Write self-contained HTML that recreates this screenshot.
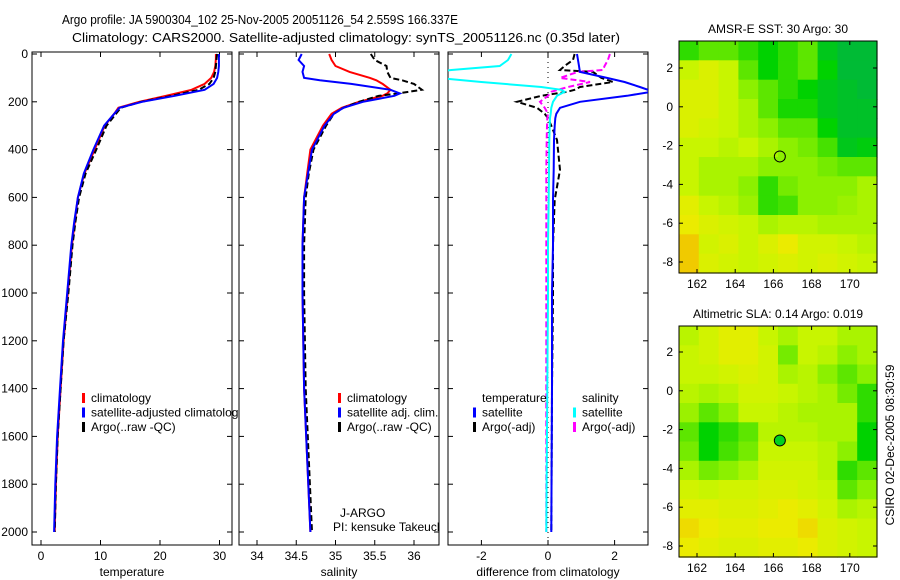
<!DOCTYPE html>
<html><head><meta charset="utf-8"><style>
html,body{margin:0;padding:0;background:#fff;}
svg{display:block;font-family:"Liberation Sans",sans-serif;}
text{font-size:12px;fill:#000;}
</style></head><body>
<svg id="fig" width="900" height="580" viewBox="0 0 900 580" xmlns="http://www.w3.org/2000/svg">
<rect width="900" height="580" fill="#fff"/>
<text x="62" y="24" text-anchor="start" textLength="396" lengthAdjust="spacingAndGlyphs" style="font-size:13px">Argo profile: JA 5900304_102 25-Nov-2005 20051126_54 2.559S 166.337E</text>
<text x="72" y="42" text-anchor="start" textLength="548" lengthAdjust="spacingAndGlyphs" style="font-size:13px">Climatology: CARS2000. Satellite-adjusted climatology: synTS_20051126.nc (0.35d later)</text>
<defs>
<clipPath id="c1"><rect x="32" y="52" width="200" height="493"/></clipPath>
<clipPath id="c2"><rect x="239" y="52" width="200" height="493"/></clipPath>
<clipPath id="c3"><rect x="448" y="52" width="200" height="493"/></clipPath>
<clipPath id="cleg1"><rect x="32" y="380" width="206" height="60"/></clipPath>
<clipPath id="cleg2"><rect x="239" y="380" width="200" height="160"/></clipPath>
</defs>
<g id="plots"></g>
<text transform="translate(894,445) rotate(-90)" text-anchor="middle">CSIRO 02-Dec-2005 08:30:59</text>
</svg>
<script>
// ---- profile data ----
const depths = [0,20,50,75,100,125,150,175,200,225,250,300,400,500,600,700,800,1000,1200,1400,1600,1800,2000];
const tempClim = [29.4,29.4,29.3,29.1,28.6,27.5,25.3,21,16.5,13,12.3,10.7,9,7.3,6.2,5.7,5.2,4.5,3.8,3.3,2.8,2.5,2.3];
const tempSat  = [29.9,29.9,29.9,29.8,29.6,29.0,27.5,22.5,17,13.2,12.3,10.6,8.8,7.2,6.2,5.6,5.1,4.4,3.7,3.2,2.7,2.4,2.2];
const tempArgo = [29.6,29.5,29.4,29.3,29.0,28.3,26.5,22,16.8,13.4,12.6,11.0,9.3,7.5,6.4,5.8,5.3,4.6,3.8,3.3,2.8,2.5,2.3];
const salDepths = [0,25,50,75,100,110,125,150,165,175,200,225,250,300,400,500,600,800,1000,1400,2000];
const salClim = [34.92,34.95,35.0,35.18,35.44,35.52,35.6,35.7,35.66,35.6,35.3,35.08,34.95,34.84,34.68,34.64,34.6,34.58,34.58,34.6,34.68];
const salSat  = [34.57,34.53,34.6,34.58,34.6,34.8,35.2,35.7,35.82,35.75,35.35,35.1,34.98,34.86,34.7,34.65,34.6,34.58,34.58,34.6,34.68];
const salArgo = [35.45,35.5,35.65,35.66,35.7,35.85,36.0,36.1,35.8,35.55,35.3,35.1,34.98,34.88,34.72,34.66,34.62,34.6,34.6,34.62,34.7];
const diffDepths = [0,25,50,67,75,100,117,138,150,158,175,200,225,250,268,300,360,485,610,800,1000,1400,2000];
const dTempSat  = [0.87,0.9,0.93,0.95,0.96,1.77,2.3,2.76,3.0,3.1,2.37,0.96,0.36,0.25,0.22,0.2,0.18,0.17,0.15,0.15,0.12,0.12,0.1];
const dTempArgo = [0.8,0.75,0.5,0.36,1.35,1.6,1.95,0.96,0.8,0.57,-0.2,-0.93,-0.33,-0.1,0,0.1,0.27,0.36,0.2,0.15,0.15,0.12,0.1];
const dSalSat   = [-1.1,-1.2,-1.45,-2.9,-3.5,-3.3,-2.0,-0.2,0.4,0.5,0.27,0.15,0.1,0.08,0.06,0.05,0.04,0.03,0.02,0.0,0.0,-0.02,-0.05];
const dSalArgo  = [1.86,1.8,1.7,1.65,0.9,0.36,1.26,0.6,0.3,0.1,0,-0.24,-0.1,0,-0.02,-0.03,-0.04,-0.05,-0.05,-0.05,-0.05,-0.05,-0.05];
const yTicks = [0,200,400,600,800,1000,1200,1400,1600,1800,2000];
const tTicks = [0,10,20,30], sTicks=[34,34.5,35,35.5,36], dTicks=[-2,0,2];
// ---- map data (rows north->south, cols west->east) ----
const sstGrid = [
[0.4,0.5,0.5,0.4,0.3,0.4,0.5,0.2,0.1,0.1],
[0.8,0.9,0.8,0.5,0.3,0.4,0.5,0.3,0.1,0.1],
[0.9,0.9,0.8,0.6,0.5,0.4,0.3,0.2,0.15,0.1],
[0.9,0.9,0.8,0.7,0.5,0.35,0.35,0.2,0.15,0.15],
[0.9,0.85,0.8,0.7,0.6,0.5,0.5,0.3,0.15,0.15],
[0.8,0.8,0.75,0.8,0.7,0.6,0.55,0.45,0.2,0.25],
[0.8,0.7,0.7,0.7,0.6,0.6,0.6,0.55,0.5,0.5],
[0.8,0.7,0.7,0.6,0.4,0.55,0.6,0.6,0.6,0.7],
[0.95,0.8,0.75,0.65,0.4,0.45,0.6,0.6,0.65,0.7],
[1.0,0.9,0.85,0.8,0.7,0.75,0.75,0.7,0.7,0.7],
[1.1,0.85,0.9,0.8,0.9,1.0,0.85,0.85,0.8,0.75],
[1.1,0.9,0.85,0.8,0.85,0.9,0.85,0.9,0.85,0.8]];
const slaGrid = [
[0.75,0.85,0.95,0.95,0.8,0.7,0.8,0.8,0.7,0.7],
[0.8,0.85,0.95,0.95,0.85,0.55,0.8,0.75,0.6,0.7],
[0.8,0.8,0.85,0.9,0.85,0.7,0.75,0.6,0.5,0.6],
[0.75,0.7,0.75,0.85,0.85,0.8,0.75,0.7,0.55,0.4],
[0.65,0.5,0.6,0.8,0.8,0.75,0.7,0.7,0.7,0.4],
[0.5,0.3,0.4,0.5,0.75,0.75,0.75,0.7,0.7,0.3],
[0.55,0.3,0.45,0.55,0.8,0.8,0.8,0.75,0.6,0.3],
[0.7,0.55,0.6,0.7,0.85,0.85,0.85,0.75,0.4,0.5],
[0.85,0.8,0.85,0.85,0.9,0.9,0.85,0.8,0.5,0.6],
[0.95,0.95,0.9,0.9,0.95,1.0,0.95,0.85,0.7,0.75],
[1.05,1.0,0.95,0.95,1.0,1.0,1.05,0.9,0.85,0.8],
[1.0,0.95,0.9,0.9,0.95,0.95,1.0,0.9,0.85,0.8]];
const latTicks=[2,0,-2,-4,-6,-8], lonTicks=[162,164,166,168,170];

const NS="http://www.w3.org/2000/svg";
const root=document.getElementById('plots');
function mk(tag,attrs,parent){const e=document.createElementNS(NS,tag);for(const k in attrs)e.setAttribute(k,attrs[k]);(parent||root).appendChild(e);return e;}
function txt(x,y,s,anchor,parent){const t=mk('text',{x:x,y:y,'text-anchor':anchor||'middle'},parent);t.textContent=s;return t;}
const yD=d=>54+d*0.239;
const xT=v=>41+v*5.95, xS=v=>257+(v-34)*78.5, xD=v=>548+v*33.3;

function frame(x0,x1,name,xs,ticks,title,labelsY){
  const f=mk('rect',{x:x0,y:52,width:x1-x0,height:493,fill:'none',stroke:'#000','stroke-width':1});
  
  
  ticks.forEach(v=>{const x=xs(v);mk('line',{x1:x,x2:x,y1:545,y2:540,stroke:'#000'});mk('line',{x1:x,x2:x,y1:52,y2:57,stroke:'#000'});
    const t=txt(x,560,String(v));});
  yTicks.forEach(d=>{const y=yD(d);mk('line',{x1:x0,x2:x0+5,y1:y,y2:y,stroke:'#000'});mk('line',{x1:x1-5,x2:x1,y1:y,y2:y,stroke:'#000'});
    if(labelsY){const t=txt(28,y+4,String(d),'end');}});
  const t=txt((x0+x1)/2,576,title);
}
function line(ds,vs,xs,color,dash,clip,name,w){
  const pts=ds.map((d,i)=>xs(vs[i]).toFixed(1)+','+yD(d).toFixed(1)).join(' ');
  const p=mk('polyline',{points:pts,fill:'none',stroke:color,'stroke-width':w||2,'clip-path':'url(#'+clip+')'});
  if(dash)p.setAttribute('stroke-dasharray',dash);
  
  
}
frame(32,232,'temperature-panel',xT,tTicks,'temperature',true);
frame(239,439,'salinity-panel',xS,sTicks,'salinity',false);
frame(448,648,'difference-panel',xD,dTicks,'difference from climatology',false);
line(depths,tempClim,xT,'#f00',null,'c1','temp-climatology-line');
line(depths,tempArgo,xT,'#000','6,3','c1','temp-argo-line');
line(depths,tempSat,xT,'#00f',null,'c1','temp-satellite-line');
line(salDepths,salClim,xS,'#f00',null,'c2','sal-climatology-line');
line(salDepths,salArgo,xS,'#000','6,3','c2','sal-argo-line');
line(salDepths,salSat,xS,'#00f',null,'c2','sal-satellite-line');
mk('line',{x1:548,x2:548,y1:52,y2:545,stroke:'#000','stroke-dasharray':'1,4'});
line(diffDepths,dTempArgo,xD,'#000','6,3','c3','diff-temp-argo-line');
line(diffDepths,dSalArgo,xD,'#f0f','6,3','c3','diff-sal-argo-line');
line(diffDepths,dTempSat,xD,'#00f',null,'c3','diff-temp-satellite-line');
line(diffDepths,dSalSat,xD,'#0ff',null,'c3','diff-sal-satellite-line');

function legend(x,y,items,clip,name){
  const g=mk('g',{'clip-path':clip?'url(#'+clip+')':''});
  
  
  items.forEach((it,i)=>{const yy=y+i*14.5;
    if(it[0])mk('rect',{x:x,y:yy-9,width:3,height:10,fill:it[0]},g);
    txt(x+9,yy,it[1],'start',g);});
}
legend(82,402,[['#f00','climatology'],['#00f','satellite-adjusted climatology'],['#000','Argo(..raw -QC)']],'cleg1','temperature-legend');
legend(338,402,[['#f00','climatology'],['#00f','satellite adj. clim.'],['#000','Argo(..raw -QC)']],'cleg2','salinity-legend');
legend(473,402,[[null,'temperature'],['#00f','satellite'],['#000','Argo(-adj)']],null,'diff-temp-legend');
legend(573,402,[[null,'salinity'],['#0ff','satellite'],['#f0f','Argo(-adj)']],null,'diff-sal-legend');
const g2=mk('g',{'clip-path':'url(#cleg2)'});
txt(340,517,'J-ARGO','start',g2);
txt(333,531,'PI: kensuke Takeuchi','start',g2);

// ---- maps ----
function col(v){
  const stops=[[0,[0,176,80]],[0.3,[0,210,0]],[0.6,[140,240,0]],[0.8,[200,245,0]],[1.0,[235,235,0]],[1.2,[245,170,0]]];
  v=Math.max(0,Math.min(1.2,v));
  for(let i=1;i<stops.length;i++){if(v<=stops[i][0]){const a=stops[i-1],b=stops[i],t=(v-a[0])/(b[0]-a[0]);
    return 'rgb('+a[1].map((c,k)=>Math.round(c+(b[1][k]-c)*t)).join(',')+')';}}
  return 'rgb(245,170,0)';
}
function map(y0,y1,grid,title,name,filled){
  const x0=679,x1=877, lonX=l=>697+(l-162)*19.1, lat2=(y1===273)?68:352, latY=a=>lat2+(2-a)*19.4;
  const rows=grid.length, cols=grid[0].length, cw=(x1-x0)/cols, ch=(y1-y0)/rows;
  const g=mk('g',{});
  
  
  grid.forEach((r,i)=>r.forEach((v,j)=>{
    const c=mk('rect',{x:(x0+j*cw).toFixed(1),y:(y0+i*ch).toFixed(1),width:(cw+0.6).toFixed(1),height:(ch+0.6).toFixed(1),fill:col(v)},g);
    
    
  }));
  mk('rect',{x:x0,y:y0,width:x1-x0,height:y1-y0,fill:'none',stroke:'#000'});
  lonTicks.forEach(l=>{const x=lonX(l);mk('line',{x1:x,x2:x,y1:y1,y2:y1-4,stroke:'#000'});mk('line',{x1:x,x2:x,y1:y0,y2:y0+4,stroke:'#000'});
    const t=txt(x,y1+15,String(l));});
  latTicks.forEach(a=>{const y=latY(a);mk('line',{x1:x0,x2:x0+4,y1:y,y2:y,stroke:'#000'});mk('line',{x1:x1-4,x2:x1,y1:y,y2:y,stroke:'#000'});
    const t=txt(673,y+4,String(a),'end');});
  const t=txt(778,y0-8,title);
  const m=mk('circle',{cx:lonX(166.337),cy:latY(-2.559),r:5.5,fill:filled?'#00d020':'none',stroke:'#000'});
  
  
}
map(41,273,sstGrid,'AMSR-E SST: 30 Argo: 30','sst-map',false);
map(326,557,slaGrid,'Altimetric SLA: 0.14 Argo: 0.019','sla-map',true);
</script>
</body></html>
